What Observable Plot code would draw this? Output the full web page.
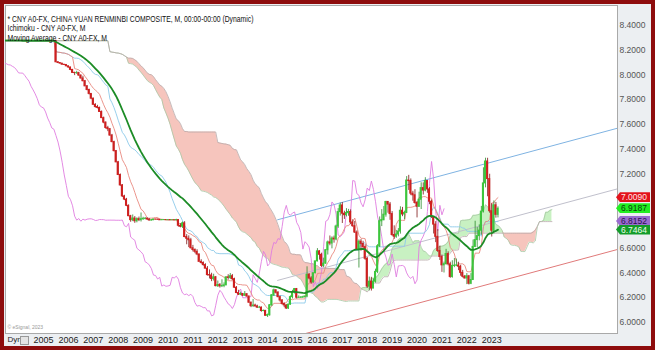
<!DOCTYPE html>
<html><head><meta charset="utf-8">
<script src="https://cdn.jsdelivr.net/npm/d3@7"></script>
<script src="https://cdn.jsdelivr.net/npm/@observablehq/plot@0.6"></script>
<style>
body{margin:0;background:#fff;}
#wrap{position:relative;width:655px;height:350px;overflow:hidden;}
#border{position:absolute;left:0;top:0;width:655px;height:350px;box-sizing:border-box;border:4px solid #8e0d0d;pointer-events:none;}
.plabel{position:absolute;left:616px;width:34px;height:10px;font:8.5px "Liberation Sans Narrow","Arial Narrow","Liberation Sans",Arial,sans-serif;line-height:10px;padding-left:5px;box-sizing:border-box;clip-path:polygon(0 50%,4px 0,100% 0,100% 100%,4px 100%);}
#dynicon{position:absolute;left:20px;top:336px;width:7px;height:7px;border:1px solid #999;background:#e4e4e4;}
</style></head><body>
<div id="wrap"></div>
<script>
// ---- data (monthly USD/CNY, first month Jan 2003) ----
const startYear = 2003;
const closes = [
8.2770,8.2770,8.2770,8.2770,8.2770,8.2770,8.2770,8.2770,8.2770,8.2770,8.2770,8.2770,
8.2765,8.2765,8.2765,8.2765,8.2765,8.2765,8.2765,8.2765,8.2765,8.2765,8.2765,8.2765,
8.2765,8.2765,8.2765,8.2765,8.2765,8.2765,8.1030,8.0970,8.0920,8.0830,8.0810,8.0702,
8.0608,8.0413,8.0170,8.0153,8.0155,7.9956,7.9720,7.9500,7.9087,7.8792,7.8471,7.8087,
7.7590,7.7409,7.7342,7.7015,7.6516,7.6155,7.5720,7.5620,7.5108,7.4580,7.3850,7.2946,
7.1920,7.1080,7.0190,6.9930,6.9430,6.8591,6.8270,6.8400,6.8183,6.8350,6.8272,6.8346,
6.8375,6.8380,6.8324,6.8241,6.8260,6.8319,6.8315,6.8309,6.8262,6.8270,6.8272,6.8270,
6.8270,6.8260,6.8263,6.8255,6.8278,6.7815,6.7735,6.8010,6.6905,6.6765,6.6645,6.6000,
6.5860,6.5710,6.5500,6.4900,6.4810,6.4640,6.4350,6.3830,6.3800,6.3510,6.3650,6.2940,
6.3030,6.2925,6.2950,6.3000,6.3650,6.3600,6.3740,6.3500,6.2810,6.2380,6.2250,6.2300,
6.2170,6.2280,6.2100,6.1600,6.1320,6.1370,6.1300,6.1200,6.1200,6.0930,6.0940,6.0540,
6.0600,6.1390,6.2200,6.2600,6.2400,6.2050,6.1780,6.1500,6.1380,6.1130,6.1440,6.2050,
6.2450,6.2700,6.2000,6.2000,6.2000,6.2040,6.2100,6.3860,6.3560,6.3240,6.3980,6.4940,
6.5750,6.5470,6.4570,6.4760,6.5840,6.6470,6.6380,6.6780,6.6710,6.7760,6.8920,6.9460,
6.8790,6.8670,6.8850,6.8930,6.8080,6.7780,6.7270,6.5930,6.6530,6.6350,6.6090,6.5150,
6.2900,6.3300,6.2740,6.3300,6.4090,6.6160,6.8180,6.8280,6.8710,6.9740,6.9530,6.8760,
6.7070,6.6930,6.7110,6.7350,6.9030,6.8730,6.8860,7.1470,7.1430,7.0410,7.0280,6.9660,
6.9350,6.9920,7.0860,7.0660,7.1430,7.0750,6.9760,6.8520,6.7910,6.6920,6.5780,6.5290,
6.4620,6.4710,6.5530,6.4700,6.3680,6.4570,6.4590,6.4610,6.4510,6.4010,6.3700,6.3560,
6.3730,6.3130,6.3430,6.6110,6.6660,6.6980,6.7420,6.8960,7.1240,7.3010,7.1590,6.8990,
6.7420,6.9470,6.8700,6.9187];
const highs = [
8.2774,8.2774,8.2774,8.2774,8.2774,8.2774,8.2774,8.2774,8.2774,8.2774,8.2774,8.2774,
8.2771,8.2771,8.2771,8.2771,8.2771,8.2771,8.2771,8.2771,8.2771,8.2771,8.2771,8.2771,
8.2770,8.2770,8.2770,8.2770,8.2770,8.2770,8.2765,8.1080,8.0990,8.0930,8.0850,8.0820,
8.0720,8.0620,8.0450,8.0220,8.0300,8.0220,8.0000,7.9900,7.9560,7.9140,7.8850,7.8480,
7.8130,7.7680,7.7550,7.7400,7.7090,7.6600,7.6200,7.5850,7.5680,7.5200,7.4650,7.3900,
7.3020,7.2000,7.1150,7.0280,7.0030,6.9500,6.8660,6.8690,6.8560,6.8460,6.8520,6.8850,
6.8500,6.8480,6.8450,6.8380,6.8320,6.8340,6.8340,6.8350,6.8320,6.8300,6.8300,6.8300,
6.8300,6.8300,6.8290,6.8290,6.8340,6.8300,6.7980,6.8120,6.8150,6.7100,6.7000,6.6800,
6.6230,6.5950,6.5880,6.5520,6.5070,6.4900,6.4750,6.4520,6.4250,6.3980,6.3900,6.3720,
6.3350,6.3150,6.3450,6.3200,6.3680,6.3860,6.3960,6.3880,6.3580,6.2900,6.2600,6.2450,
6.2350,6.2500,6.2340,6.2130,6.1650,6.1860,6.1480,6.1400,6.1300,6.1250,6.1000,6.0970,
6.0680,6.1450,6.2250,6.2700,6.2630,6.2500,6.2130,6.1850,6.1580,6.1440,6.1490,6.2150,
6.2600,6.2750,6.2750,6.2150,6.2100,6.2120,6.2130,6.4500,6.3950,6.3700,6.4000,6.4950,
6.5970,6.5790,6.5600,6.5200,6.5900,6.6580,6.6990,6.6920,6.6980,6.7870,6.9200,6.9650,
6.9690,6.8990,6.9200,6.9140,6.9100,6.8300,6.8160,6.7400,6.6670,6.6700,6.6560,6.6280,
6.5260,6.3670,6.3650,6.3520,6.4310,6.6290,6.8530,6.9120,6.9370,6.9790,6.9780,6.9700,
6.8960,6.7810,6.7440,6.7590,6.9350,6.9300,6.9000,7.1790,7.1890,7.1600,7.0600,7.0730,
6.9780,7.0530,7.1290,7.1280,7.1700,7.1480,7.0900,6.9900,6.8570,6.8150,6.7500,6.6160,
6.5440,6.4880,6.5910,6.5710,6.4870,6.4990,6.5170,6.5130,6.4870,6.4620,6.4210,6.3800,
6.3950,6.3800,6.3950,6.6660,6.8180,6.7690,6.7890,6.9380,7.2500,7.3275,7.3270,7.1980,
6.9600,6.9820,6.9700,6.9340];
const lows = [
8.2766,8.2766,8.2766,8.2766,8.2766,8.2766,8.2766,8.2766,8.2766,8.2766,8.2766,8.2766,
8.2763,8.2763,8.2763,8.2763,8.2763,8.2763,8.2763,8.2763,8.2763,8.2763,8.2763,8.2763,
8.2762,8.2762,8.2762,8.2762,8.2762,8.2762,8.1000,8.0920,8.0880,8.0800,8.0770,8.0680,
8.0560,8.0350,8.0130,7.9950,8.0050,7.9900,7.9680,7.9450,7.9050,7.8720,7.8380,7.8000,
7.7560,7.7330,7.7260,7.6980,7.6480,7.6060,7.5620,7.5420,7.5050,7.4520,7.3780,7.2900,
7.1870,7.1000,7.0100,6.9850,6.9360,6.8550,6.8100,6.8150,6.8010,6.8050,6.8150,6.8120,
6.8250,6.8300,6.8250,6.8210,6.8200,6.8240,6.8290,6.8270,6.8240,6.8240,6.8250,6.8250,
6.8250,6.8240,6.8250,6.8230,6.8240,6.7700,6.7650,6.7600,6.6850,6.6280,6.6050,6.5950,
6.5700,6.5560,6.5400,6.4880,6.4720,6.4550,6.4330,6.3750,6.3520,6.3300,6.3350,6.2880,
6.2830,6.2780,6.2820,6.2810,6.2970,6.3420,6.3480,6.3380,6.2760,6.2330,6.2180,6.2170,
6.2100,6.2100,6.2050,6.1550,6.1200,6.1230,6.1250,6.1130,6.1150,6.0830,6.0870,6.0520,
6.0400,6.0500,6.1300,6.2100,6.2300,6.2000,6.1650,6.1400,6.1200,6.1050,6.1050,6.1400,
6.1900,6.2300,6.1900,6.1950,6.1950,6.1990,6.2000,6.2000,6.3450,6.3100,6.3200,6.3940,
6.4900,6.5040,6.4450,6.4420,6.4700,6.5450,6.6200,6.5950,6.6410,6.6600,6.7600,6.8600,
6.8000,6.8330,6.8530,6.8580,6.7900,6.7700,6.7190,6.5870,6.4400,6.5760,6.5820,6.5020,
6.2760,6.2550,6.2540,6.2740,6.3180,6.3950,6.6060,6.7750,6.8200,6.8510,6.8830,6.8260,
6.6960,6.6720,6.6800,6.6920,6.7140,6.8550,6.8310,6.8810,7.0670,7.0250,6.9800,6.9560,
6.8450,6.9300,6.9130,7.0300,7.0560,7.0440,6.9520,6.8400,6.7150,6.6450,6.5660,6.5010,
6.4050,6.4000,6.4650,6.4570,6.3570,6.3580,6.4430,6.4510,6.4190,6.3740,6.3600,6.3520,
6.3060,6.3030,6.3060,6.3410,6.6050,6.6050,6.6600,6.7050,6.8850,7.0880,7.0160,6.8830,
6.6905,6.7160,6.8430,6.8450];

const yearTicks = [2005,2006,2007,2008,2009,2010,2011,2012,2013,2014,2015,2016,2017,2018,2019,2020,2021,2022,2023];
const priceTicks = [6.0,6.2,6.4,6.6,7.2,7.4,7.6,7.8,8.0,8.2,8.4];
const labelValues = [7.0090, 6.9187, 6.8152, 6.7464];
const labelFills = ["#e3121b", "#22ee22", "#9a6cd0", "#149c2a"];
const labelTextColors = ["#ffe4e4", "#0b3d0b", "#2a1050", "#eaffea"];
const channelDates = [2014.4, 2028.05];
const channelUpper = [6.83, 7.57];
const channelMiddle = [6.34, 7.08];
const channelLower = [5.85, 6.59];
const titleLines = [
  "* CNY A0-FX, CHINA YUAN RENMINBI COMPOSITE, M, 00:00-00:00 (Dynamic)",
  "Ichimoku - CNY A0-FX, M",
  "Moving Average - CNY A0-FX, M"
];
const maPeriod = 36;

// ---- derived series (indicators computed from the price data) ----
const candles = closes.map((c, i) => {
  const o = i > 0 ? closes[i - 1] : c;
  return {t: startYear + i / 12, open: o, close: c, high: highs[i], low: lows[i], up: c >= o};
});
function midRange(i, n) {
  const lo = Math.max(0, i - n + 1);
  return (d3.max(highs.slice(lo, i + 1)) + d3.min(lows.slice(lo, i + 1))) / 2;
}
function ema(n) { const a = 2 / (n + 1); let e = closes[0]; return closes.map(v => (e = e + a * (v - e))); }
const shift = 26 / 12;
const tenkan = candles.map((d, i) => ({t: d.t, v: midRange(i, 9)}));
const kijun = candles.map((d, i) => ({t: d.t, v: midRange(i, 26)}));
const cloud = candles.map((d, i) => ({t: d.t + shift, a: (tenkan[i].v + kijun[i].v) / 2, b: midRange(i, 52)}));
const chikou = candles.map(d => ({t: d.t - shift, v: d.close}));
const maVals = ema(maPeriod);
const ma = candles.map((d, i) => ({t: d.t, v: maVals[i]}));
const chan = (vals) => channelDates.map((t, i) => ({t, v: vals[i]}));

const FONT = '"Liberation Sans Narrow","Arial Narrow","Liberation Sans",Arial,sans-serif';
const green = "#c8f1c2", pink = "#f6c5bd";

const chart = Plot.plot({
  width: 655, height: 350,
  marginLeft: 5, marginRight: 38, marginTop: 5, marginBottom: 17,
  style: {background: "#eceff2", fontFamily: FONT, fontSize: "8.5px"},
  x: {domain: [2003.474, 2028.05]},
  y: {domain: [5.911, 8.5616]},
  color: {type: "identity"},
  marks: [
    Plot.frame({fill: "white", stroke: "#a9a9a9"}),
    Plot.areaY(cloud, {x: "t", y1: "b", y2: d => Math.max(d.a, d.b), fill: green, clip: true}),
    Plot.areaY(cloud, {x: "t", y1: "a", y2: d => Math.max(d.a, d.b), fill: pink, clip: true}),
    Plot.line(cloud, {x: "t", y: "a", stroke: "#a8c8a4", strokeWidth: 0.8, clip: true}),
    Plot.line(cloud, {x: "t", y: "b", stroke: "#b7a9a9", strokeWidth: 0.8, clip: true}),
    Plot.line(chan(channelUpper), {x: "t", y: "v", stroke: "#7fb3e2", strokeWidth: 1, clip: true}),
    Plot.line(chan(channelMiddle), {x: "t", y: "v", stroke: "#c0c0cc", strokeWidth: 1, clip: true}),
    Plot.line(chan(channelLower), {x: "t", y: "v", stroke: "#e07a7a", strokeWidth: 1, clip: true}),
    Plot.line(chikou, {x: "t", y: "v", stroke: "#e07de0", strokeWidth: 0.9, clip: true}),
    Plot.line(kijun, {x: "t", y: "v", stroke: "#8ccaea", strokeWidth: 0.9, clip: true}),
    Plot.line(tenkan, {x: "t", y: "v", stroke: "#e9897f", strokeWidth: 0.9, clip: true}),
    Plot.ruleX(candles, {x: "t", y1: "low", y2: "high", stroke: d => d.up ? "#2b8a2b" : "#7e1414", strokeWidth: 0.8, clip: true}),
    Plot.rect(candles, {x1: d => d.t - 0.042, x2: d => d.t + 0.042, y1: "open", y2: "close",
      fill: d => d.up ? "#3cc63c" : "#cf1f1f", insetTop: -0.5, insetBottom: -0.5, clip: true}),
    Plot.line(ma, {x: "t", y: "v", stroke: "#1c8c26", strokeWidth: 1.8, clip: true}),
    ...titleLines.map((s, i) => Plot.text([s], {text: d => d, frameAnchor: "top-left", dx: 2, dy: 10 + i * 9.5,
      textAnchor: "start", fontSize: 9, fill: "#111"})),
    Plot.text(["© eSignal, 2023"], {text: d => d, frameAnchor: "bottom-left", dx: 2, dy: -5, textAnchor: "start", fontSize: 5, fill: "#999"}),
    Plot.text(["Dyn"], {text: d => d, frameAnchor: "bottom-left", dx: 2, dy: 8, textAnchor: "start", fontSize: 8, fill: "#222"}),
    Plot.axisX({ticks: yearTicks, tickFormat: d => String(d), tickSize: 0, tickPadding: 3, fontSize: 9, fill: "#222", label: null}),
    Plot.axisY({anchor: "right", ticks: priceTicks, tickFormat: d => d.toFixed(4), tickSize: 0, tickPadding: 2, fontSize: 8.5, fill: "#555", label: null})
  ]
});

const wrap = document.getElementById("wrap");
wrap.appendChild(chart);

// fit title lines to the reference's width
const titleNodes = d3.select(chart).selectAll("text").filter(function() { return titleLines.includes(this.textContent); }).nodes();
const first = titleNodes.find(n => n.textContent === titleLines[0]);
if (first) {
  const L1 = first.getComputedTextLength();
  const s = 246 / L1;
  if (s < 1) titleNodes.forEach(n => { n.setAttribute("textLength", n.getComputedTextLength() * s); n.setAttribute("lengthAdjust", "spacingAndGlyphs"); });
}

const ys = chart.scale("y");
labelValues.forEach((v, i) => {
  const div = document.createElement("div");
  div.className = "plabel";
  div.style.top = (ys.apply(v) - 5) + "px";
  div.style.background = labelFills[i];
  div.style.color = labelTextColors[i];
  div.textContent = v.toFixed(4);
  wrap.appendChild(div);
});
const icon = document.createElement("div"); icon.id = "dynicon"; wrap.appendChild(icon);
const border = document.createElement("div"); border.id = "border"; wrap.appendChild(border);
</script>
</body></html>
